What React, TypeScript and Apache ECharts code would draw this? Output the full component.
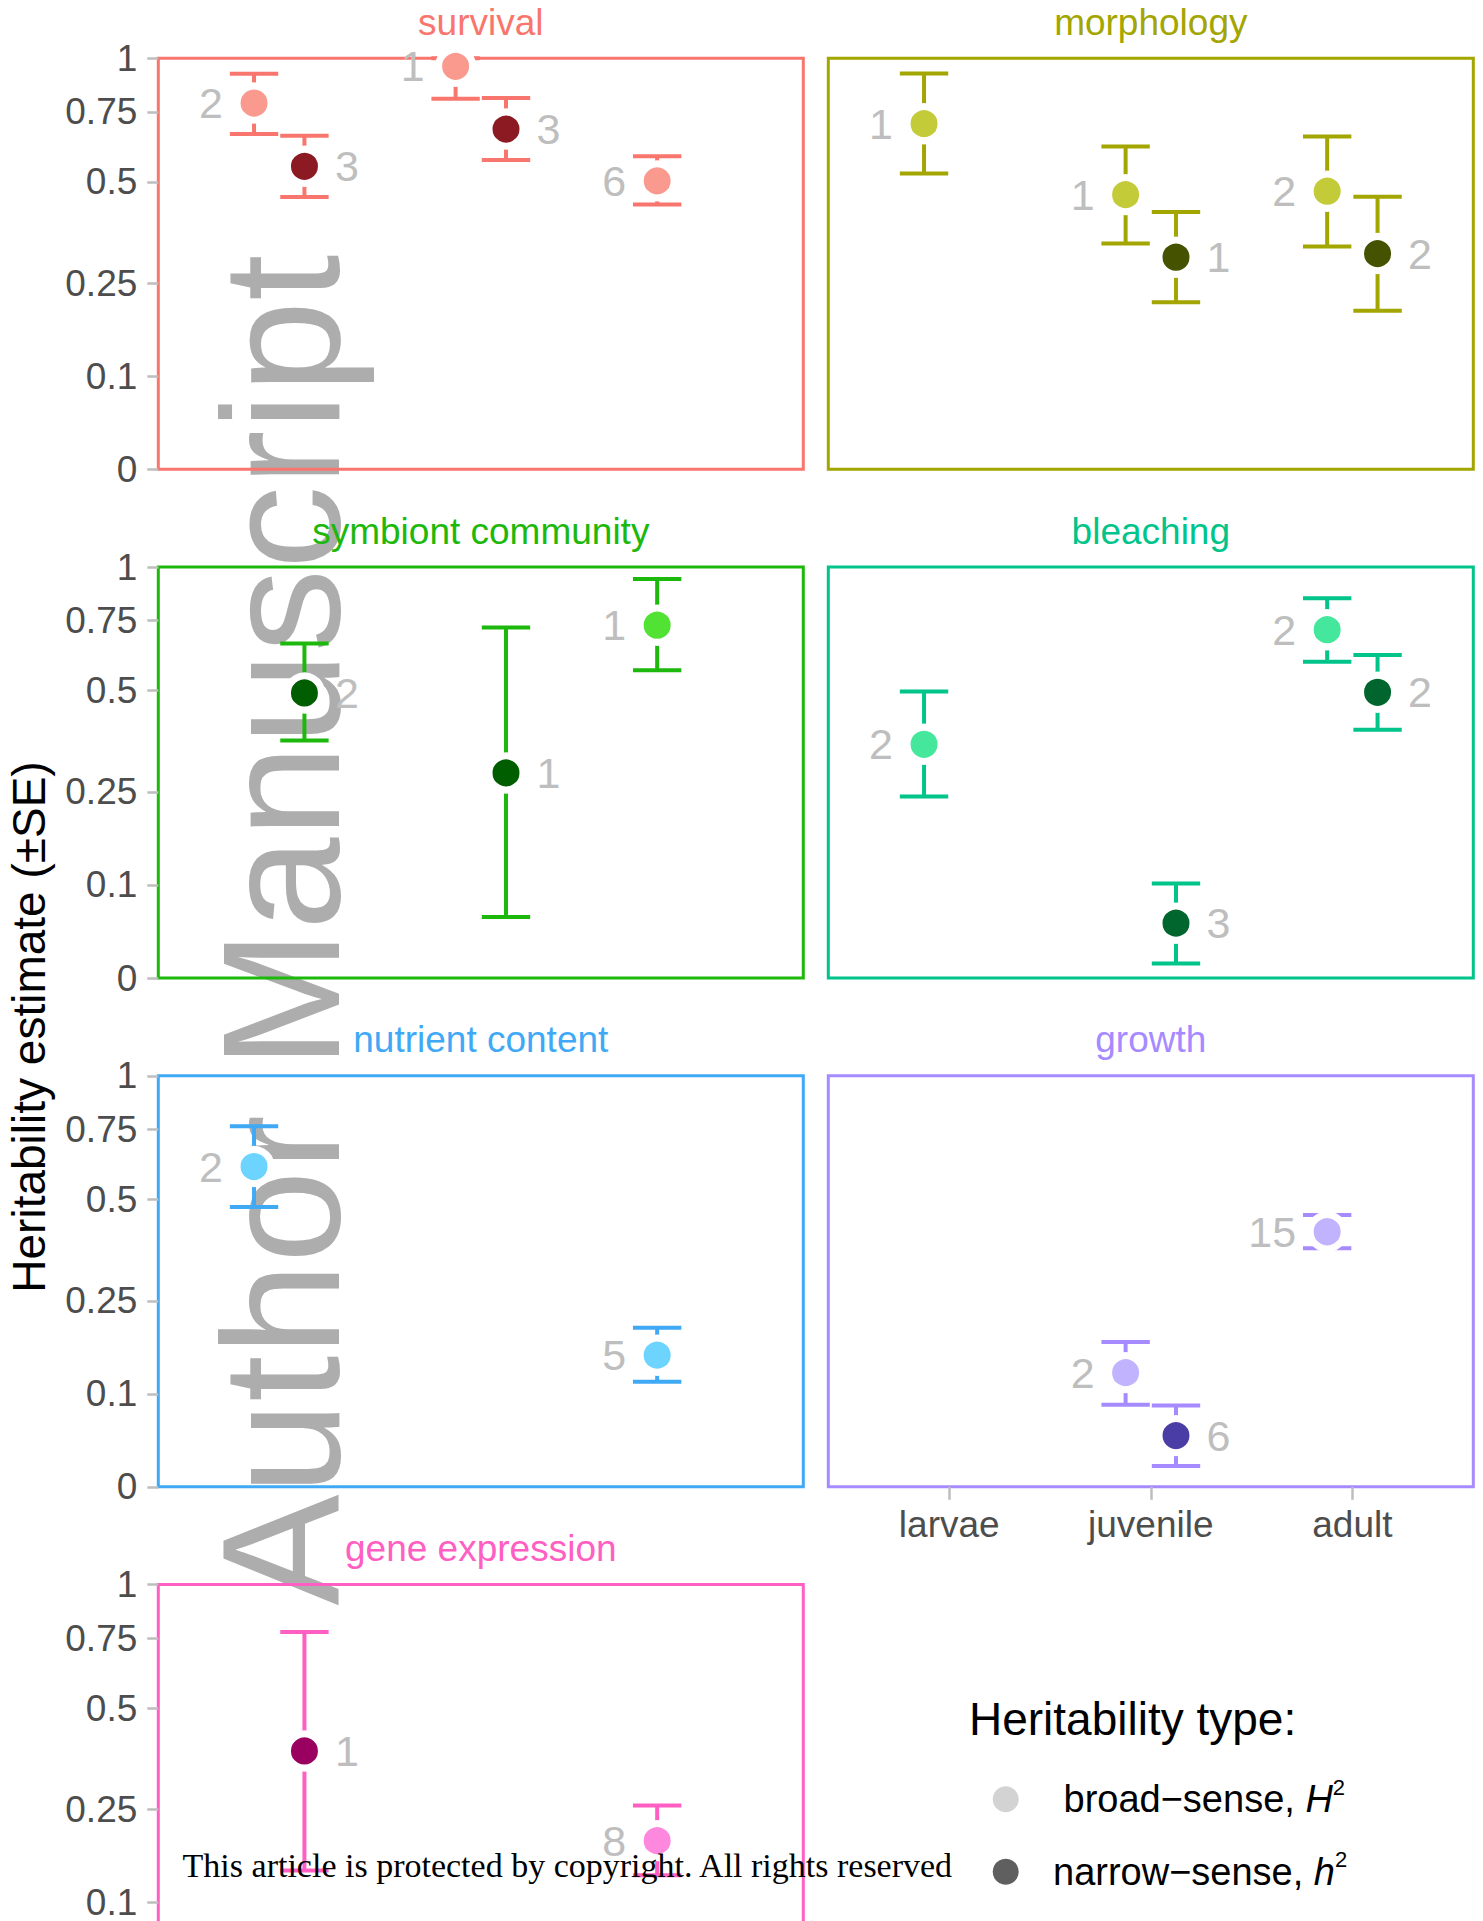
import React, { useEffect, useRef } from 'react';
import * as echarts from 'echarts';

const stages = ['larvae', 'juvenile', 'adult'];
const traits = ['survival', 'morphology', 'symbiont community', 'bleaching', 'nutrient content', 'growth', 'gene expression'];
const traitColors = ['#F8766D', '#A3A500', '#1DB80C', '#00C48A', '#3FA9F5', '#A68AFF', '#FF5EC2'];
const broadColors = ['#FA9A8E', '#C4CB38', '#52E233', '#45E79D', '#6DD4FF', '#C2B3FF', '#FF88DF'];
const narrowColors = ['#8C1A22', '#455200', '#005E00', '#00662E', '#1F5E99', '#4B3DA6', '#99005F'];
const yTickValues = [0, 0.1, 0.25, 0.5, 0.75, 1];
const yTickLabels = ['0', '0.1', '0.25', '0.5', '0.75', '1'];
const yAxisTitle = 'Heritability estimate (\u00B1SE)';
const legendTitle = 'Heritability type:';
const watermarkText = 'Author Manuscript';
const copyrightText = 'This article is protected by copyright. All rights reserved';

// trait, life stage, estimate, estimate - SE, estimate + SE, number of estimates
const broadSense: [string, string, number, number, number, number][] = [
  ['survival', 'larvae', 0.787, 0.662, 0.921, 2],
  ['survival', 'juvenile', 0.958, 0.806, 1.0, 1],
  ['survival', 'adult', 0.503, 0.434, 0.583, 6],
  ['morphology', 'larvae', 0.702, 0.526, 0.923, 1],
  ['morphology', 'juvenile', 0.462, 0.335, 0.617, 1],
  ['morphology', 'adult', 0.472, 0.328, 0.653, 2],
  ['symbiont community', 'adult', 0.731, 0.565, 0.939, 1],
  ['bleaching', 'larvae', 0.354, 0.241, 0.497, 2],
  ['bleaching', 'adult', 0.713, 0.594, 0.847, 2],
  ['nutrient content', 'larvae', 0.608, 0.477, 0.763, 2],
  ['nutrient content', 'adult', 0.155, 0.116, 0.2, 5],
  ['growth', 'juvenile', 0.129, 0.086, 0.176, 2],
  ['growth', 'adult', 0.408, 0.366, 0.454, 15],
  ['gene expression', 'adult', 0.193, 0.138, 0.258, 8],
];

const narrowSense: [string, string, number, number, number, number][] = [
  ['survival', 'larvae', 0.549, 0.455, 0.656, 3],
  ['survival', 'juvenile', 0.681, 0.57, 0.809, 3],
  ['morphology', 'juvenile', 0.304, 0.214, 0.414, 1],
  ['morphology', 'adult', 0.312, 0.199, 0.456, 2],
  ['symbiont community', 'larvae', 0.493, 0.363, 0.66, 2],
  ['symbiont community', 'juvenile', 0.289, 0.061, 0.722, 1],
  ['bleaching', 'juvenile', 0.054, 0.013, 0.102, 3],
  ['bleaching', 'adult', 0.495, 0.39, 0.618, 2],
  ['growth', 'juvenile', 0.05, 0.019, 0.085, 6],
  ['gene expression', 'larvae', 0.381, 0.145, 0.776, 1],
];

const FONT = '"Liberation Sans", Arial, Helvetica, sans-serif';
const SERIF = '"Liberation Serif", "Times New Roman", serif';
const tr = (v: number) => Math.log(1 + 5 * v) / Math.log(6);
const DODGE = 0.125;
const CAP_HALF = 0.12;
const PANEL_LEFT = [158.3, 828.3];
const PANEL_TOP = [58.2, 567, 1075.8, 1584.6];
const PANEL_W = 645;
const PANEL_H = 411;
const TICK_COLOR = '#BEBEBE';
const AXIS_TEXT = '#4D4D4D';
const COUNT_COLOR = '#BEBEBE';

function yLabel(v: number) {
  for (let k = 0; k < yTickValues.length; k++) {
    if (Math.abs(tr(yTickValues[k]) - v) < 1e-6) return yTickLabels[k];
  }
  return '';
}

function buildOption() {
  const grid: any[] = [];
  const xAxis: any[] = [];
  const yAxis: any[] = [];
  const series: any[] = [];
  const graphic: any[] = [];

  traits.forEach((trait, i) => {
    const row = Math.floor(i / 2);
    const col = i % 2;
    const left = PANEL_LEFT[col];
    const top = PANEL_TOP[row];
    const showX = i === 5;
    const showY = col === 0;

    grid.push({
      left, top, width: PANEL_W, height: PANEL_H,
      show: true, borderColor: traitColors[i], borderWidth: 3,
      backgroundColor: 'transparent', containLabel: false, outerBoundsMode: 'none',
    });

    xAxis.push({
      type: 'value', gridIndex: i, min: 0.4, max: 3.6,
      axisLine: { show: false }, splitLine: { show: false },
      axisTick: { show: showX, customValues: [1, 2, 3], length: 13, lineStyle: { color: TICK_COLOR, width: 2.5 } },
      axisLabel: {
        show: showX, customValues: [1, 2, 3], margin: 19,
        formatter: (v: number) => stages[Math.round(v) - 1],
        fontSize: 37, color: AXIS_TEXT, fontFamily: FONT,
      },
    });

    const yTicks = yTickValues.map(tr);
    yAxis.push({
      type: 'value', gridIndex: i, min: 0, max: 1,
      axisLine: { show: false }, splitLine: { show: false },
      axisTick: { show: showY, customValues: yTicks, length: 11, lineStyle: { color: TICK_COLOR, width: 2.5 } },
      axisLabel: {
        show: showY, customValues: yTicks, margin: 21,
        formatter: (v: number) => yLabel(v),
        fontSize: 37, color: AXIS_TEXT, fontFamily: FONT,
      },
    });

    const b = broadSense.filter((r) => r[0] === trait);
    const n = narrowSense.filter((r) => r[0] === trait);
    const xb = (s: string) => stages.indexOf(s) + 1 - DODGE;
    const xn = (s: string) => stages.indexOf(s) + 1 + DODGE;
    const errData = [
      ...b.map((r) => [xb(r[1]), tr(r[3]), tr(r[4])]),
      ...n.map((r) => [xn(r[1]), tr(r[3]), tr(r[4])]),
    ];
    const color = traitColors[i];

    series.push({
      type: 'custom', name: trait + ' SE', xAxisIndex: i, yAxisIndex: i, z: 2, silent: true, clip: false,
      encode: { x: 0, y: [1, 2] },
      data: errData,
      renderItem: (params: any, api: any) => {
        const x = api.value(0);
        const lo = api.coord([x, api.value(1)]);
        const hi = api.coord([x, api.value(2)]);
        const half = api.size([CAP_HALF, 0])[0];
        const style = { stroke: color, lineWidth: 4, fill: null };
        return {
          type: 'group',
          children: [
            { type: 'line', shape: { x1: hi[0], y1: hi[1], x2: lo[0], y2: lo[1] }, style },
            { type: 'line', shape: { x1: hi[0] - half, y1: hi[1], x2: hi[0] + half, y2: hi[1] }, style },
            { type: 'line', shape: { x1: lo[0] - half, y1: lo[1], x2: lo[0] + half, y2: lo[1] }, style },
          ],
        };
      },
    });

    const pointBase = {
      type: 'scatter', xAxisIndex: i, yAxisIndex: i, z: 3, silent: true,
      symbol: 'circle', symbolSize: 34, emphasis: { disabled: true },
    };
    series.push({
      ...pointBase,
      name: 'broad-sense',
      itemStyle: { color: '#D3D3D3', borderColor: '#ffffff', borderWidth: 7, opacity: 1 },
      label: {
        show: true, position: 'left', distance: 10.5,
        formatter: (p: any) => String(p.value[2]),
        color: COUNT_COLOR, fontSize: 43, fontFamily: FONT,
      },
      data: b.map((r) => ({ value: [xb(r[1]), tr(r[2]), r[5]], itemStyle: { color: broadColors[i], opacity: 1 } })),
    });
    series.push({
      ...pointBase,
      name: 'narrow-sense',
      itemStyle: { color: '#5F5F5F', borderColor: '#ffffff', borderWidth: 7, opacity: 1 },
      label: {
        show: true, position: 'right', distance: 10,
        formatter: (p: any) => String(p.value[2]),
        color: COUNT_COLOR, fontSize: 43, fontFamily: FONT,
      },
      data: n.map((r) => ({ value: [xn(r[1]), tr(r[2]), r[5]], itemStyle: { color: narrowColors[i], opacity: 1 } })),
    });

    graphic.push({
      type: 'text', x: left + PANEL_W / 2, y: top - 36, silent: true,
      style: { text: trait, fill: color, fontSize: 37, fontFamily: FONT, align: 'center', verticalAlign: 'middle' },
    });
  });

  graphic.push({
    type: 'text', x: 281.3, y: 1605.5, rotation: Math.PI / 2, z: -1, silent: true,
    style: { text: watermarkText, fill: '#ADADAD', fontSize: 166.5, fontFamily: FONT, align: 'left', verticalAlign: 'middle' },
  });
  graphic.push({
    type: 'text', x: 29, y: 1027, rotation: Math.PI / 2, silent: true,
    style: { text: yAxisTitle, fill: '#000000', fontSize: 46, fontFamily: FONT, align: 'center', verticalAlign: 'middle' },
  });
  graphic.push({
    type: 'text', x: 969, y: 1719, silent: true,
    style: { text: legendTitle, fill: '#000000', fontSize: 46, fontFamily: FONT, align: 'left', verticalAlign: 'middle' },
  });
  graphic.push({
    type: 'text', x: 182.6, y: 1865.6, z: 100, silent: true,
    style: { text: copyrightText, fill: '#000000', fontSize: 34, fontFamily: SERIF, align: 'left', verticalAlign: 'middle' },
  });

  const legendText = {
    fontSize: 38, fontFamily: FONT, color: '#000000', lineHeight: 46,
    rich: {
      i: { fontSize: 38, fontFamily: FONT, color: '#000000', fontStyle: 'italic', lineHeight: 46 },
      s: { fontSize: 22, fontFamily: FONT, color: '#000000', lineHeight: 22, verticalAlign: 'top' },
    },
  };
  const legend = [
    {
      data: ['broad-sense'], left: 992.7, top: 1776.3, orient: 'vertical', padding: 0,
      itemWidth: 105.6, itemHeight: 26, icon: 'circle', selectedMode: false, symbolKeepAspect: true,
      itemStyle: { color: '#D3D3D3', borderWidth: 0, opacity: 1 },
      formatter: () => 'broad\u2212sense, {i|H}{s|2}',
      textStyle: legendText,
    },
    {
      data: ['narrow-sense'], left: 992.7, top: 1848.7, orient: 'vertical', padding: 0,
      itemWidth: 84.6, itemHeight: 26, icon: 'circle', selectedMode: false, symbolKeepAspect: true,
      itemStyle: { color: '#5F5F5F', borderWidth: 0, opacity: 1 },
      formatter: () => 'narrow\u2212sense, {i|h}{s|2}',
      textStyle: legendText,
    },
  ];

  return { animation: false, backgroundColor: '#ffffff', grid, xAxis, yAxis, series, graphic, legend };
}

export default function App() {
  const ref = useRef<HTMLDivElement>(null);
  useEffect(() => {
    if (!ref.current) return;
    const chart = echarts.init(ref.current, null, { renderer: 'svg' });
    chart.setOption(buildOption() as any);
    return () => chart.dispose();
  }, []);
  return (
    <div
      ref={ref}
      style={{ position: 'absolute', left: 0, top: 0, width: 1483, height: 1921, background: '#ffffff' }}
    />
  );
}
